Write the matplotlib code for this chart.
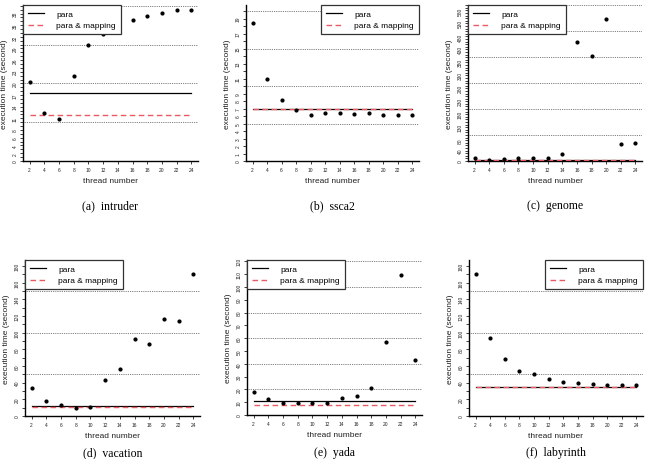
import matplotlib
matplotlib.use('Agg')
from matplotlib import pyplot as plt
from matplotlib.ticker import FixedLocator, MultipleLocator, NullLocator

plt.rcParams['font.family'] = ['Liberation Sans', 'DejaVu Sans']

threads = [2, 4, 6, 8, 10, 12, 14, 16, 18, 20, 22, 24]
xticks = [2, 4, 6, 8, 10, 12, 14, 16, 18, 20, 22, 24]

# execution time (seconds) per thread count
intruder_time = [20.3, 12.4, 10.7, 21.8, 29.8, 32.7, 35.6, 36.4, 37.3, 38.1, 38.8, 38.9]
ssca2_time = [18.4, 10.9, 8.2, 6.8, 6.2, 6.4, 6.4, 6.3, 6.35, 6.2, 6.2, 6.1]
genome_time = [10, 5, 6, 10, 13, 12, 26, 458, 403, 546, 64, 69]
vacation_time = [33.2, 17.6, 13.2, 9.6, 11.2, 43.7, 56.0, 92.9, 86.4, 116.4, 113.3, 170.0]
yada_time = [17.8, 12.6, 9.6, 9.0, 9.6, 9.6, 13.2, 15.0, 21.4, 56.6, 109.3, 42.9]
labyrinth_time = [170.0, 93.2, 68.0, 54.4, 50.4, 44.8, 41.2, 39.6, 38.4, 37.2, 37.6, 37.6]

# constant reference levels: para / para & mapping
intruder_para, intruder_mapping = 17.4, 11.9
ssca2_para, ssca2_mapping = 6.95, 6.9
genome_para, genome_mapping = 5, 4
vacation_para, vacation_mapping = 11.6, 11.0
yada_para, yada_mapping = 10.9, 7.5
labyrinth_para, labyrinth_mapping = 35.2, 35.2

# y tick labels and dotted reference lines
intruder_yticks = [0, 2, 4, 6, 8, 11, 14, 17, 20, 23, 26, 29, 32, 35, 38]
ssca2_yticks = [0, 1, 2, 3, 4, 5, 6, 7, 8, 9, 11, 13, 15, 17, 19]
genome_yticks = [0, 40, 80, 130, 180, 230, 280, 330, 380, 430, 480, 530, 580]
vacation_yticks = [0, 20, 40, 60, 80, 100, 120, 140, 160, 180]
yada_yticks = [0, 10, 20, 30, 40, 50, 60, 70, 80, 90, 100, 110, 120]
labyrinth_yticks = [0, 20, 40, 60, 80, 100, 120, 140, 160, 180]

intruder_grid = [10, 20, 30, 40]
ssca2_grid = [5, 10, 15, 20]
genome_grid = [100, 200, 300, 400, 500, 600]
vacation_grid = [50, 100, 150]
yada_grid = [20, 40, 60, 80, 100, 120]
labyrinth_grid = [50, 100, 150]

W, H = 645, 460

panels = [
    # caption, times, para, mapping, yticks, minor, ytop, grid, legend side, rect px (l, t, r, b), caption y
    ('(a)  intruder', intruder_time, intruder_para, intruder_mapping, intruder_yticks, 1, 40.2,
     intruder_grid, 'left', (23, 6, 198, 162), 206),
    ('(b)  ssca2', ssca2_time, ssca2_para, ssca2_mapping, ssca2_yticks, 1, 20.8,
     ssca2_grid, 'right', (246, 6, 419, 162), 206),
    ('(c)  genome', genome_time, genome_para, genome_mapping, genome_yticks, 10, 601,
     genome_grid, 'left', (468, 6, 642, 162), 206),
    ('(d)  vacation', vacation_time, vacation_para, vacation_mapping, vacation_yticks, 10, 187,
     vacation_grid, 'left', (25, 261, 200, 417), 453),
    ('(e)  yada', yada_time, yada_para, yada_mapping, yada_yticks, None, 121,
     yada_grid, 'left', (247, 261, 422, 416), 453),
    ('(f)  labyrinth', labyrinth_time, labyrinth_para, labyrinth_mapping, labyrinth_yticks, 10, 187,
     labyrinth_grid, 'right', (469, 261, 643, 417), 453),
]

fig = plt.figure(figsize=(W / 100, H / 100), dpi=100)

for caption, times, para, mapping, yticks, minor, ytop, grid, side, rect, capy in panels:
    l, t, r, b = rect
    ax = fig.add_axes([l / W, 1 - b / H, (r - l) / W, (b - t) / H])
    for g in grid:
        ax.axhline(g, color='#555555', lw=0.6, ls=(0, (1, 1.2)), zorder=1)
    ax.plot([threads[0], threads[-1]], [para, para], color='black', lw=0.9, label='para', zorder=2)
    ax.plot([threads[0], threads[-1]], [mapping, mapping], color='#ea5a62', lw=1.0,
            dashes=(4, 2.5), label='para & mapping', zorder=3)
    ax.plot(threads, times, ls='none', marker='o', ms=2.0, color='black', zorder=4)

    ax.set_xlim(1.1, 24.9)
    ax.set_ylim(0, ytop)
    ax.xaxis.set_major_locator(FixedLocator(xticks))
    ax.yaxis.set_major_locator(FixedLocator(yticks))
    if minor:
        ax.yaxis.set_minor_locator(MultipleLocator(minor))
    else:
        ax.yaxis.set_minor_locator(NullLocator())
    ax.tick_params(axis='both', which='both', direction='out', length=2.5, width=0.6,
                   labelsize=3.5, pad=1.5, colors='#222222')
    plt.setp(ax.get_yticklabels(), rotation=90, va='center')
    for s in ('top', 'right'):
        ax.spines[s].set_visible(False)
    for s in ('left', 'bottom'):
        ax.spines[s].set_linewidth(1.0)
    ax.set_xlabel('thread number', fontsize=6, labelpad=4, color='#222222')
    ax.set_ylabel('execution time (second)', fontsize=6, labelpad=3, color='#222222')

    loc = 'upper left' if side == 'left' else 'upper right'
    anchor = (0, 1) if side == 'left' else (1, 1)
    leg = ax.legend(loc=loc, bbox_to_anchor=anchor, borderaxespad=0, fontsize=6,
                    handlelength=1.9, handletextpad=1.5, borderpad=0.6, labelspacing=0.45,
                    fancybox=False, edgecolor='#333333', framealpha=1)
    leg.get_frame().set_linewidth(0.9)
    leg.set_zorder(5)

    fig.text((l + r) / 2 / W, 1 - capy / H, caption, ha='center', va='center',
             fontsize=8.5, family='Liberation Serif')

fig.savefig('out.png', dpi=100)
